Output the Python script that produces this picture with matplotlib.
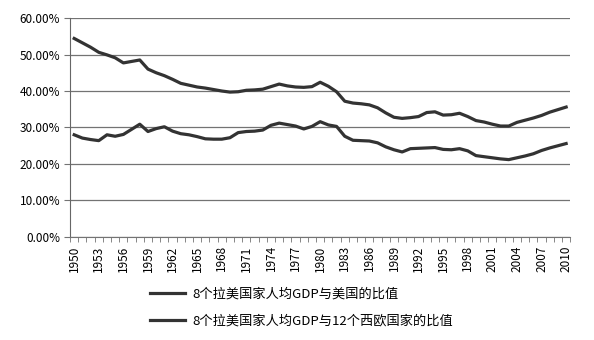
import matplotlib
matplotlib.use("Agg")
import numpy as np
import matplotlib.pyplot as plt
from matplotlib.ticker import FuncFormatter, MultipleLocator

plt.rcParams['font.family'] = ['Noto Sans CJK SC', 'DejaVu Sans']

years = list(range(1950, 2011))

# ratio to the USA (%)
ratio_us = [28.0, 27.1, 26.7, 26.4, 28.0, 27.6, 28.1, 29.5, 30.9, 28.9,
            29.7, 30.2, 29.0, 28.3, 28.0, 27.5, 26.9, 26.8, 26.8, 27.2,
            28.6, 28.9, 29.0, 29.3, 30.6, 31.2, 30.8, 30.4, 29.6, 30.3,
            31.6, 30.7, 30.3, 27.6, 26.5, 26.4, 26.3, 25.8, 24.7, 23.9,
            23.3, 24.2, 24.3, 24.4, 24.5, 24.0, 23.9, 24.2, 23.6, 22.3,
            22.0, 21.7, 21.4, 21.2, 21.7, 22.2, 22.8, 23.7, 24.4, 25.0,
            25.6]

# ratio to 12 western European countries (%)
ratio_weu = [54.4, 53.2, 52.0, 50.6, 49.9, 49.1, 47.7, 48.1, 48.5, 46.0,
             45.0, 44.2, 43.2, 42.1, 41.6, 41.1, 40.8, 40.4, 40.0, 39.7,
             39.8, 40.2, 40.3, 40.5, 41.2, 41.9, 41.4, 41.1, 41.0, 41.2,
             42.4, 41.3, 39.8, 37.2, 36.7, 36.5, 36.2, 35.4, 34.0, 32.8,
             32.5, 32.7, 33.0, 34.1, 34.3, 33.4, 33.5, 33.9, 33.0, 31.9,
             31.5, 30.9, 30.4, 30.4, 31.4, 32.0, 32.6, 33.3, 34.2, 34.9,
             35.6]

labels = ['8个拉美国家人均GDP与美国的比值', '8个拉美国家人均GDP与12个西欧国家的比值']

fig = plt.figure(figsize=(5.94, 3.4), dpi=100)
ax = fig.add_axes([0.118, 0.303, 0.842, 0.644])

x = np.arange(len(years))
line_color = '#333333'
ax.plot(x, np.array(ratio_us) / 100, color=line_color, lw=2.3, label=labels[0])
ax.plot(x, np.array(ratio_weu) / 100, color=line_color, lw=2.3, label=labels[1])

ax.set_ylim(0, 0.6)
ax.set_xlim(-0.5, len(years) - 0.5)
ax.yaxis.set_major_locator(MultipleLocator(0.1))
ax.yaxis.set_major_formatter(FuncFormatter(lambda v, p: f'{v * 100:.2f}%'))
ax.grid(axis='y', color='#737373', lw=0.9)
ax.set_axisbelow(True)

ax.set_xticks(x[::3])
ax.set_xticklabels([str(y) for y in years[::3]], rotation=90)
ax.set_xticks(np.arange(-0.5, len(years)), minor=True)
ax.tick_params(axis='x', which='major', length=0, pad=6, labelsize=8.5)
ax.tick_params(axis='x', which='minor', length=3.5, color='#737373')
ax.tick_params(axis='y', length=4, color='#737373', labelsize=8.5, pad=3)

for s in ['top', 'right']:
    ax.spines[s].set_visible(False)
ax.spines['left'].set_color('#666666')
ax.spines['bottom'].set_color('#737373')

fig.legend(loc='upper left', bbox_to_anchor=(0.252, 0.155), frameon=False,
           fontsize=9.5, handlelength=2.7, handletextpad=0.5, labelspacing=1.05,
           borderaxespad=0, borderpad=0)

fig.savefig('out.png', dpi=100, facecolor='white')
